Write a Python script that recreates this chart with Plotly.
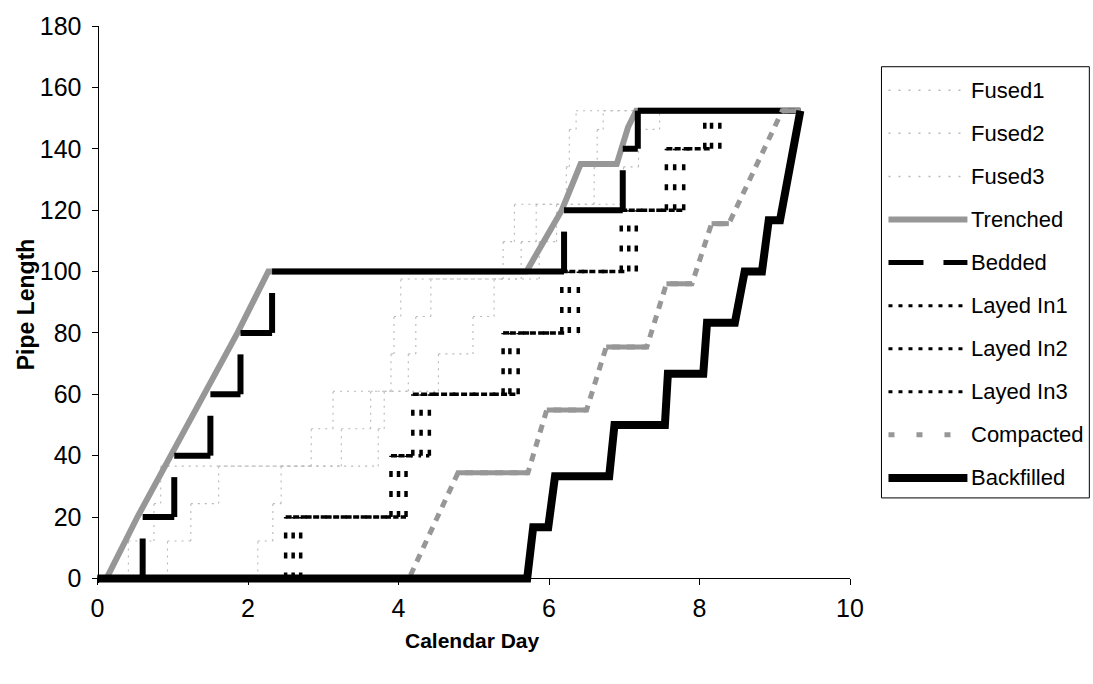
import plotly.graph_objects as go

# ---------------- data ----------------
# pipe lengths reached after each fused stick (40 ft sticks, 500 ft run)
stick_levels = [0, 12.19, 24.38, 36.58, 48.77, 60.96, 73.15, 85.34, 97.54,
                109.73, 121.92, 134.11, 146.30, 152.4]
fused1_days = [0.41, 0.75, 0.84, 2.84, 3.13, 3.90, 3.94, 4.03, 5.39, 5.54, 6.23, 6.27, 6.36]
fused2_days = [0.93, 1.24, 1.61, 3.24, 3.63, 4.13, 4.23, 4.43, 5.63, 5.83, 6.60, 6.64, 6.72]
fused3_days = [2.13, 2.33, 2.44, 3.73, 3.81, 4.53, 4.99, 5.27, 5.87, 6.10, 6.99, 7.19, 7.47]
fused_end_day = 7.47

trench_days = [0, 0.12, 0.53, 0.97, 1.41, 1.86, 2.27, 5.70, 6.17, 6.42, 6.90, 7.05, 7.16, 9.34]
trench_length = [0, 0, 20, 40, 60, 80, 100, 100, 120, 135, 135, 147, 152.4, 152.4]

# pipe sections handled by bedding and laying crews
section_levels = [0, 20, 40, 60, 80, 100, 120, 140, 152.4]
bedded_days = [0.60, 1.02, 1.50, 1.90, 2.32, 6.20, 6.98, 7.18]
layed1_days = [2.50, 3.90, 4.19, 5.39, 6.17, 6.96, 7.56, 8.07]
layed2_days = [2.60, 4.00, 4.30, 5.48, 6.27, 7.06, 7.67, 8.16]
layed3_days = [2.70, 4.10, 4.41, 5.59, 6.39, 7.16, 7.79, 8.27]
section_end_day = 9.34

compacted_days = [0, 4.14, 4.79, 5.72, 5.97, 6.50, 6.76, 7.30, 7.56, 7.90, 8.16, 8.39, 9.10, 9.34]
compacted_length = [0, 0, 34.4, 34.4, 54.9, 54.9, 75.4, 75.4, 96.0, 96.0, 115.6, 115.6, 152.4, 152.4]

backfilled_days = [0, 5.71, 5.79, 5.99, 6.08, 6.80, 6.87, 7.54, 7.58, 8.05, 8.10,
                   8.47, 8.60, 8.83, 8.92, 9.07, 9.34]
backfilled_length = [0, 0, 16.7, 16.7, 33.3, 33.3, 50, 50, 66.7, 66.7, 83.3,
                     83.3, 100, 100, 116.7, 116.7, 152.4]

x_ticks = [0, 2, 4, 6, 8, 10]
y_ticks = [0, 20, 40, 60, 80, 100, 120, 140, 160, 180]

# ---------------- geometry ----------------
FONT = "Liberation Sans, Arial, Helvetica, sans-serif"
W, H = 1093, 684
X_RANGE = [-0.06, 10]
Y_RANGE = [-1.5, 180]
X0_PX, X10_PX = 97.5, 850.5     # columns of day 0 and day 10
Y0_PX, Y180_PX = 578.0, 22.0    # rows of length 0 and 180
ux = (X10_PX - X0_PX) / 10
uy = (Y0_PX - Y180_PX) / 180
L = X0_PX + X_RANGE[0] * ux
R = X10_PX
T = Y180_PX
B = Y0_PX - Y_RANGE[0] * uy


def px_x(p):
    return (p - L) / (R - L)


def px_y(p):
    return (B - p) / (B - T)


def steps(days, levels, end_day, climb=None):
    """Staircase: a run along each level, then the climb to the next one.
    Every run and climb is its own sub-path so the dash pattern restarts."""
    xs, ys = [], []
    prev = 0.0
    for d, lo, hi in zip(days, levels[:-1], levels[1:]):
        top = hi if climb is None else min(hi, lo + climb)
        xs += [prev, d, None, d, d, None]
        ys += [lo, lo, None, lo, top, None]
        prev = d
    xs += [prev, end_day]
    ys += [levels[-1], levels[-1]]
    return xs, ys


GRAY = "#979797"
FUSED_GRAY = "#b8b8b8"

fig = go.Figure()


def add(xs, ys, color, width, dash="solid", name=None):
    fig.add_trace(go.Scatter(
        x=xs, y=ys, mode="lines", name=name, showlegend=False,
        connectgaps=False, hoverinfo="skip",
        line=dict(color=color, width=width, dash=dash)))


for nm, days in [("Fused1", fused1_days), ("Fused2", fused2_days), ("Fused3", fused3_days)]:
    fx, fy = steps(days, stick_levels, fused_end_day)
    add(fx, fy, FUSED_GRAY, 1.1, "2px,5px", nm)

add(trench_days, trench_length, GRAY, 6, name="Trenched")

bx, by = steps(bedded_days, section_levels, section_end_day, climb=13)
add(bx, by, "black", 6, name="Bedded")

for nm, days in [("Layed In1", layed1_days), ("Layed In2", layed2_days), ("Layed In3", layed3_days)]:
    lx, ly = steps(days, section_levels, section_end_day)
    add(lx, ly, "black", 3.5, "6px,14px", nm)

# compacted: dashed climbs, continuous plateaus
plat_x, plat_y = [], []
for i in range(len(compacted_days) - 1):
    if compacted_length[i] == compacted_length[i + 1] and compacted_length[i] > 0:
        plat_x += [compacted_days[i], compacted_days[i + 1], None]
        plat_y += [compacted_length[i], compacted_length[i + 1], None]
add(compacted_days, compacted_length, GRAY, 5, "8px,7px", "Compacted")
add(plat_x, plat_y, GRAY, 5)

add(backfilled_days, backfilled_length, "black", 8, name="Backfilled")

# ---------------- legend (drawn in paper space) ----------------
legend_items = [
    ("Fused1", FUSED_GRAY, 1.5, "2px,8px"),
    ("Fused2", FUSED_GRAY, 1.5, "2px,8px"),
    ("Fused3", FUSED_GRAY, 1.5, "2px,8px"),
    ("Trenched", GRAY, 6, "solid"),
    ("Bedded", "black", 5, "35px,20px"),
    ("Layed In1", "black", 3, "4px,6px"),
    ("Layed In2", "black", 3, "4px,6px"),
    ("Layed In3", "black", 3, "4px,6px"),
    ("Compacted", GRAY, 5, "6px,22px"),
    ("Backfilled", "black", 8, "solid"),
]
shapes = [dict(type="rect", xref="paper", yref="paper",
               x0=px_x(882), x1=px_x(1090), y0=px_y(63), y1=px_y(497),
               line=dict(color="black", width=1), fillcolor="white", layer="below")]
annotations = []
for i, (label, color, width, dash) in enumerate(legend_items):
    yy = px_y(86.7 + 43.35 * i)
    shapes.append(dict(type="line", xref="paper", yref="paper",
                       x0=px_x(889), x1=px_x(968), y0=yy, y1=yy,
                       line=dict(color=color, width=width, dash=dash)))
    annotations.append(dict(text=label, xref="paper", yref="paper",
                            x=px_x(970), y=yy, xanchor="left", yanchor="middle",
                            showarrow=False, font=dict(family=FONT, size=22, color="black")))

annotations.append(dict(text="<b>Calendar Day</b>", xref="paper", yref="paper",
                        x=px_x(473), y=px_y(641), xanchor="center", yanchor="middle",
                        showarrow=False, font=dict(family=FONT, size=21, color="black")))
annotations.append(dict(text="<b>Pipe Length</b>", xref="paper", yref="paper",
                        x=px_x(26), y=px_y(302), xanchor="center", yanchor="middle",
                        textangle=-90, showarrow=False,
                        font=dict(family=FONT, size=23, color="black")))

axis_common = dict(showgrid=False, zeroline=False, showline=True, linecolor="black",
                   linewidth=1, ticks="outside", ticklen=6, tickcolor="black",
                   tickwidth=1, tickfont=dict(family=FONT, size=25, color="black"),
                   anchor="free")

fig.update_layout(
    width=W, height=H,
    margin=dict(l=L, r=W - R, t=T, b=H - B, pad=0),
    paper_bgcolor="white", plot_bgcolor="white",
    showlegend=False,
    xaxis=dict(range=X_RANGE, tickvals=x_ticks, position=px_y(Y0_PX),
               ticklabelstandoff=2, **axis_common),
    yaxis=dict(range=Y_RANGE, tickvals=y_ticks, position=px_x(X0_PX),
               ticklabelstandoff=5, **axis_common),
    shapes=shapes,
    annotations=annotations,
)

fig.write_html("out.html")
